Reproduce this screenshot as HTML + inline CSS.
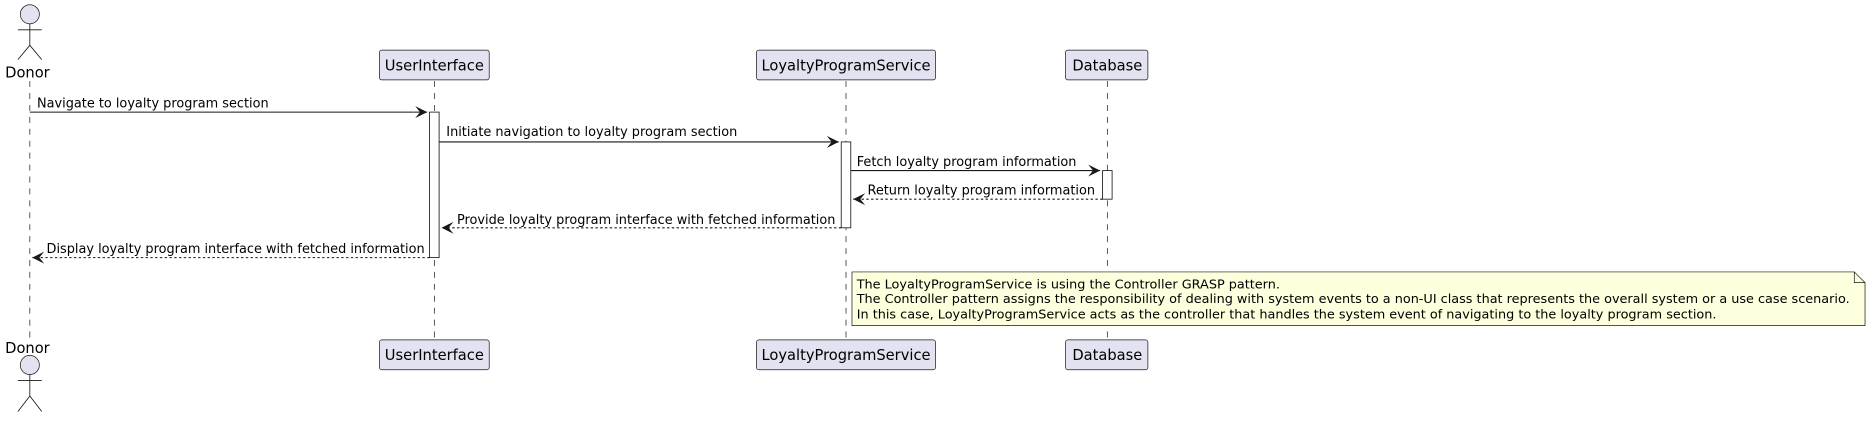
<!DOCTYPE html>
<html><head><meta charset="utf-8"><style>html,body{margin:0;padding:0;background:#fff;}svg{display:block}</style></head>
<body>
<svg width="1871" height="421" viewBox="0 0 1568 353" preserveAspectRatio="none" xmlns="http://www.w3.org/2000/svg" font-family="'DejaVu Sans', 'Liberation Sans', sans-serif">
<defs>
<marker id="a" viewBox="0 0 10 10" refX="10" refY="5" markerWidth="10" markerHeight="10" markerUnits="userSpaceOnUse" orient="auto"><path d="M0,0 L10,5 L0,10 L4,5 Z" fill="#181818"/></marker>
</defs>
<g stroke="#181818" stroke-width="0.6" stroke-dasharray="5,5">
<line x1="25" y1="68" x2="25" y2="283"/>
<line x1="364" y1="68" x2="364" y2="285"/>
<line x1="709" y1="68" x2="709" y2="285"/>
<line x1="928" y1="68" x2="928" y2="285"/>
</g>
<g fill="#E2E2F0" stroke="#181818" stroke-width="0.6">
<circle cx="25" cy="12" r="8"/>
<circle cx="25" cy="306" r="8"/>
<rect x="318" y="42" width="92" height="25" rx="2"/>
<rect x="634" y="42" width="150" height="25" rx="2"/>
<rect x="893" y="42" width="69" height="25" rx="2"/>
<rect x="318" y="285" width="92" height="25" rx="2"/>
<rect x="634" y="285" width="150" height="25" rx="2"/>
<rect x="893" y="285" width="69" height="25" rx="2"/>
</g>
<g stroke="#181818" stroke-width="0.7" fill="none">
<path d="M25,20 V38 M15,25 H35 M25,38 L15,50 M25,38 L35,50"/>
<path d="M25,314 V332 M15,319 H35 M25,332 L15,345 M25,332 L35,345"/>
</g>
<g font-size="12.3" fill="#000" text-anchor="middle">
<text x="23" y="65">Donor</text>
<text x="23" y="296">Donor</text>
<text x="364" y="59">UserInterface</text>
<text x="709" y="59">LoyaltyProgramService</text>
<text x="928" y="59">Database</text>
<text x="364" y="302">UserInterface</text>
<text x="709" y="302">LoyaltyProgramService</text>
<text x="928" y="302">Database</text>
</g>
<g fill="#fff" stroke="#181818" stroke-width="0.7">
<rect x="360" y="94" width="8" height="122"/>
<rect x="705" y="119" width="8" height="72"/>
<rect x="924" y="143" width="8" height="24"/>
</g>
<g stroke="#181818" stroke-width="0.9" fill="none">
<line x1="25" y1="94" x2="358" y2="94" marker-end="url(#a)"/>
<line x1="368" y1="119" x2="703" y2="119" marker-end="url(#a)"/>
<line x1="713" y1="143" x2="922" y2="143" marker-end="url(#a)"/>
<g stroke-dasharray="2,2">
<line x1="924" y1="167" x2="715" y2="167" marker-end="url(#a)"/>
<line x1="705" y1="191" x2="370" y2="191" marker-end="url(#a)"/>
<line x1="360" y1="216" x2="27" y2="216" marker-end="url(#a)"/>
</g>
</g>
<g font-size="10.8" fill="#000">
<text x="31" y="90">Navigate to loyalty program section</text>
<text x="374" y="114">Initiate navigation to loyalty program section</text>
<text x="718" y="139">Fetch loyalty program information</text>
<text x="727" y="163">Return loyalty program information</text>
<text x="383" y="188">Provide loyalty program interface with fetched information</text>
<text x="39" y="212">Display loyalty program interface with fetched information</text>
</g>
<path d="M714,228 H1554 L1563,237 V273 H714 Z" fill="#FEFFDD" stroke="#181818" stroke-width="0.6"/>
<path d="M1554,228 V237 H1563" fill="none" stroke="#181818" stroke-width="0.6"/>
<g font-size="10.75" fill="#000">
<text x="718" y="242">The LoyaltyProgramService is using the Controller GRASP pattern.</text>
<text x="718" y="254">The Controller pattern assigns the responsibility of dealing with system events to a non-UI class that represents the overall system or a use case scenario.</text>
<text x="718" y="267">In this case, LoyaltyProgramService acts as the controller that handles the system event of navigating to the loyalty program section.</text>
</g>
</svg>
</body></html>
